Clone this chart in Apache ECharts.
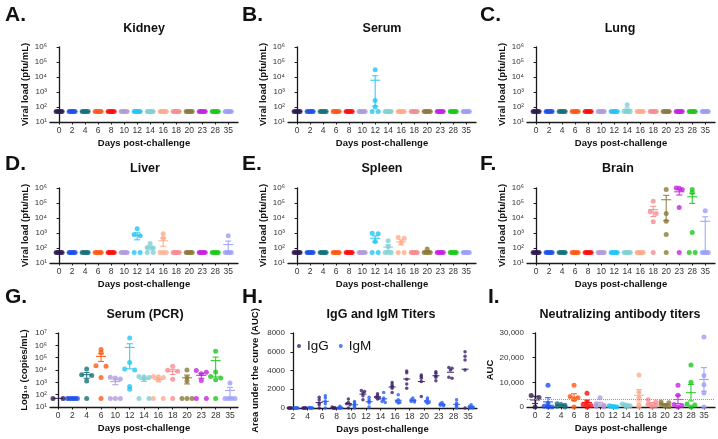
<!DOCTYPE html>
<html>
<head>
<meta charset="utf-8">
<script src="https://cdn.jsdelivr.net/npm/echarts@6/dist/echarts.min.js"></script>
<style>
html, body { margin: 0; padding: 0; background: #fff; }
#chart { width: 718px; height: 439px; }
</style>
</head>
<body>
<div id="chart"></div>
<script>
// ---- data ----
const days = ['0', '2', '4', '6', '8', '10', '12', '14', '16', '18', '20', '23', '28', '35'];
const daysPcr = ['0', '2', '4', '6', '10', '12', '14', '16', '18', '20', '23', '28', '35'];
const daysAb = ['2', '4', '6', '8', '10', '12', '14', '16', '18', '20', '23', '28', '35'];
const dayColors = ['#2f1b52', '#1f50ea', '#17707a', '#ff5a14', '#ff0d0d', '#b29bdc', '#22c6f5',
  '#80cfd5', '#ffab8a', '#f88c90', '#8c7b3b', '#c622e2', '#1cc81c', '#9b9dfa'];
const pcrColorIdx = [0, 1, 2, 3, 5, 6, 7, 8, 9, 10, 11, 12, 13];

const L = 50; // limit of detection (pfu/mL, copies/mL)

const kidney = [[L, L, L, L, L], [L, L, L, L, L], [L, L, L, L, L], [L, L, L, L, L], [L, L, L, L, L],
  [L, L, L, L, L], [L, L, L, L, L], [L, L, L, L, L], [L, L, L, L, L], [L, L, L, L, L],
  [L, L, L, L, L], [L, L, L, L, L], [L, L, L, L, L], [L, L, L, L, L]];
const serum = [[L, L, L, L, L], [L, L, L, L, L], [L, L, L, L, L], [L, L, L, L, L], [L, L, L, L, L],
  [L, L, L, L, L], [30000, 270, 100, L, L], [L, L, L, L, L], [L, L, L, L, L], [L, L, L, L, L],
  [L, L, L, L, L], [L, L, L, L, L], [L, L, L, L, L], [L, L, L, L, L]];
const lung = [[L, L, L, L, L], [L, L, L, L, L], [L, L, L, L, L], [L, L, L, L, L], [L, L, L, L, L],
  [L, L, L, L, L], [L, L, L, L, L], [140, L, L, L, L], [L, L, L, L, L], [L, L, L, L, L],
  [L, L, L, L, L], [L, L, L, L, L], [L, L, L, L, L], [L, L, L, L, L]];
const liver = [[L, L, L, L, L], [L, L, L, L, L], [L, L, L, L, L], [L, L, L, L, L], [L, L, L, L, L],
  [L, L, L, L, L], [1900, 800, 650, L, L], [200, 110, 100, L, L], [900, 450, L, L, L], [L, L, L, L, L],
  [L, L, L, L, L], [L, L, L, L, L], [L, L, L, L, L], [650, L, L, L, L]];
const spleen = [[L, L, L, L, L], [L, L, L, L, L], [L, L, L, L, L], [L, L, L, L, L], [L, L, L, L, L],
  [L, L, L, L, L], [950, 900, 270, L, L], [300, 120, L, L, L], [500, 450, 230, L, L], [L, L, L, L, L],
  [85, L, L, L, L], [L, L, L, L, L], [L, L, L, L, L], [L, L, L, L, L]];
const brain = [[L, L, L, L, L], [L, L, L, L, L], [L, L, L, L, L], [L, L, L, L, L], [L, L, L, L, L],
  [L, L, L, L, L], [L, L, L, L, L], [L, L, L, L, L], [L, L, L, L, L], [130000, 26000, 20000, 5600, L],
  [800000, 20000, 6000, 800, L], [1000000, 950000, 800000, 50000, L], [800000, 500000, 1100, L, L],
  [30000, L, L, L, L]];
const serumPcr = [[L, L], [L, L, L, L, L, L], [12000, 4200, 3500, 1300, L],
  [450000, 260000, 22000, 20000, 2500, L], [2600, 2200, 1900, L, L, L],
  [4000000, 40000, 12000, 10000, 450, 280], [3000, 2800, 2500, 2000, L, L],
  [3000, 2800, 2500, 1600, L, L], [20000, 9500, 8000, 1800, L], [10000, 2500, 1300, L, L, L],
  [9000, 6500, 5000, 1400, L, L], [330000, 7000, 3000, 2200, 1600, L], [900, L, L, L, L]];
const igg = [[0, 0, 0, 0, 0], [0, 0, 0, 0, 0], [1160, 880, 530, 350, 0], [100, 0, 0, 0, 0],
  [950, 600, 460, 350, 0], [1870, 1760, 1590, 1300, 880], [1520, 1300, 1160, 950, 1050],
  [2710, 2470, 2290, 2110, 1660], [3950, 3770, 3070, 2570, 2110], [3520, 3350, 3170, 2820, 1230],
  [3880, 3700, 3420, 3280, 2920], [4330, 4230, 4050, 3280, 3170], [5990, 5530, 5110, 4050, 0]];
const igm = [[0, 0, 0, 0, 0], [60, 0, 0, 0, 0], [1300, 1060, 700, 460, 0], [175, 0, 0, 0, 0],
  [700, 530, 350, 175, 0], [1160, 880, 700, 530, 100], [1660, 1060, 880, 700, 600],
  [1410, 880, 700, 530, 600], [1060, 880, 810, 700, 650], [1060, 880, 700, 600, 500],
  [600, 460, 350, 250, 300], [880, 530, 350, 175, 0], [350, 175, 100, 0, 0]];
const neut = [[4700, 3900, 0], [8800, 1300, 300, 0, 0], [1300, 1000, 700, 300, 0],
  [8800, 4300, 3800, 3000, 0], [5600, 2000, 1000, 600, 0], [3800, 1300, 700, 300, 0],
  [500, 300, 200, 100, 0], [1200, 900, 700, 500, 200], [13000, 6000, 3700, 1000, 0],
  [2900, 2000, 1000, 600, 0], [2000, 1700, 1000, 400, 100], [8800, 4800, 1000, 600, 0],
  [17000, 10000, 1200, 800, 0], [28400, 12800, 9000, 5700, 0]];
const neutCutoff = 3000;

const logTicks6 = [10, 100, 1000, 10000, 100000, 1000000];
const SUP = ['\u2070', '\u00b9', '\u00b2', '\u00b3', '\u2074', '\u2075', '\u2076', '\u2077'];

// ---- helpers ----
const FONT = '"Liberation Sans", Arial, sans-serif';
const AXIS = '#1a1a1a';

function meanSem(v) {
  const n = v.length;
  const m = v.reduce((a, b) => a + b, 0) / n;
  const sd = Math.sqrt(v.reduce((a, b) => a + (b - m) * (b - m), 0) / (n - 1));
  return [m, sd / Math.sqrt(n)];
}

// spread points with (nearly) the same value sideways
function swarm(vals, toScale, thr, span) {
  const s = vals.slice().sort((a, b) => b - a);
  const out = [];
  let i = 0;
  while (i < s.length) {
    let j = i + 1;
    while (j < s.length && toScale(s[i]) - toScale(s[j]) < thr) j++;
    const k = j - i;
    for (let m = 0; m < k; m++) {
      out.push([k > 1 ? (m / (k - 1) - 0.5) * span : 0, s[i + m]]);
    }
    i = j;
  }
  return out;
}

const grids = [], xAxes = [], yAxes = [], series = [];

function addPanel(p) {
  const gi = grids.length;
  grids.push({ left: p.left, top: p.top, width: p.width, height: p.height });
  const idx = p.labels.map((_, i) => i);
  xAxes.push({
    type: 'value', gridIndex: gi, min: p.xmin, max: p.xmax,
    name: 'Days post-challenge', nameLocation: 'middle', nameGap: 16,
    nameTextStyle: { fontFamily: FONT, fontWeight: 'bold', fontSize: 9.5, color: '#111' },
    axisLine: { show: true, onZero: false, lineStyle: { color: AXIS, width: 1.3 } },
    axisTick: { show: true, length: 2.5, customValues: idx, lineStyle: { color: AXIS } },
    axisLabel: {
      customValues: idx, formatter: v => p.labels[Math.round(v)],
      fontFamily: FONT, fontSize: 8.5, color: '#333', margin: 4
    },
    splitLine: { show: false }
  });
  const y = {
    gridIndex: gi, min: p.ymin, max: p.ymax,
    name: p.yName, nameLocation: 'middle', nameGap: p.yGap,
    nameTextStyle: { fontFamily: FONT, fontWeight: 'bold', fontSize: 9.5, color: '#111' },
    axisLine: { show: true, lineStyle: { color: AXIS, width: 1.3 } },
    axisTick: { show: true, length: 2.5, lineStyle: { color: AXIS } },
    axisLabel: { fontFamily: FONT, fontSize: 8, color: '#333', margin: 3 },
    splitLine: { show: false }
  };
  if (p.log) {
    y.type = 'log';
    y.logBase = 10;
    y.axisLabel.customValues = p.yTicks;
    y.axisTick.customValues = p.yTicks;
    y.axisLabel.formatter = v => '10' + SUP[Math.round(Math.log10(v))];
  } else {
    y.type = 'value';
    y.interval = p.yInterval;
    y.axisLabel.formatter = p.yFmt;
  }
  yAxes.push(y);

  const toScale = p.log ? Math.log10 : (v => v);
  (p.sets).forEach(set => {
    const pts = [];
    const stats = [];
    set.groups.forEach((vals, i) => {
      const col = set.color || dayColors[p.colorIdx[i]];
      swarm(vals, toScale, p.thr, p.span).forEach(([dx, v]) => {
        pts.push({ value: [i + (set.dx || 0) + dx, v], itemStyle: { color: col } });
      });
      const [m, s] = meanSem(vals);
      stats.push({ value: [i + (set.dx || 0), m, s], col: col });
    });
    const sc = {
      type: 'scatter', name: set.name, xAxisIndex: gi, yAxisIndex: gi,
      symbolSize: p.symbolSize, data: pts, silent: true, z: 2
    };
    if (set.color) sc.itemStyle = { color: set.color };
    if (set.markLine) sc.markLine = set.markLine;
    series.push(sc);
    series.push({
      type: 'custom', xAxisIndex: gi, yAxisIndex: gi, silent: true, z: 3,
      data: stats.map(d => d.value),
      renderItem: (params, api) => {
        const x = api.value(0), m = api.value(1), s = api.value(2);
        const col = stats[params.dataIndex].col;
        const st = { stroke: col, lineWidth: 1.1, opacity: 0.9 };
        const c = api.coord([x, m]);
        const kids = [{ type: 'line', shape: { x1: c[0] - p.meanHalf, y1: c[1], x2: c[0] + p.meanHalf, y2: c[1] }, style: st }];
        if (!set.meanOnly && s > 0) {
          const lo = m - s, hi = m + s;
          const loC = api.coord([x, Math.max(lo, p.ymin)]);
          const hiC = api.coord([x, Math.min(hi, p.ymax)]);
          kids.push({ type: 'line', shape: { x1: c[0], y1: loC[1], x2: c[0], y2: hiC[1] }, style: st });
          if (hi < p.ymax) kids.push({ type: 'line', shape: { x1: c[0] - 3, y1: hiC[1], x2: c[0] + 3, y2: hiC[1] }, style: st });
          if (lo > p.ymin) kids.push({ type: 'line', shape: { x1: c[0] - 3, y1: loC[1], x2: c[0] + 3, y2: loC[1] }, style: st });
        }
        return { type: 'group', children: kids };
      }
    });
  });
}

const viral = 'Viral load (pfu/mL)';
const idx14 = days.map((_, i) => i);
const colLeft = [50, 288, 527];
const rowTop = [47, 188, 333];
const logPanel = (col, row, groups) => ({
  left: colLeft[col], top: rowTop[row], width: 188, height: 75,
  xmin: -0.7, xmax: 13.75, labels: days, colorIdx: idx14,
  log: true, ymin: 10, ymax: 1000000, yTicks: logTicks6, yName: viral, yGap: 20,
  thr: 0.15, span: 0.46, symbolSize: 5, meanHalf: 5,
  sets: [{ groups: groups }]
});

addPanel(logPanel(0, 0, kidney));
addPanel(logPanel(1, 0, serum));
addPanel(logPanel(2, 0, lung));
addPanel(logPanel(0, 1, liver));
addPanel(logPanel(1, 1, spleen));
addPanel(logPanel(2, 1, brain));

addPanel({
  left: 50, top: 333, width: 188, height: 74,
  xmin: -0.56, xmax: 12.56, labels: daysPcr, colorIdx: pcrColorIdx,
  log: true, ymin: 10, ymax: 10000000, yTicks: [10, 100, 1000, 10000, 100000, 1000000, 10000000],
  yName: 'Log\u2081\u2080 (copies/mL)', yGap: 21,
  thr: 0.15, span: 0.7, symbolSize: 5, meanHalf: 5,
  sets: [{ groups: serumPcr }]
});

addPanel({
  left: 288, top: 333, width: 189, height: 75,
  xmin: -0.34, xmax: 12.62, labels: daysAb, colorIdx: [],
  log: false, ymin: 0, ymax: 8000, yInterval: 2000, yFmt: v => String(v),
  yName: 'Area under the curve (AUC)', yGap: 28,
  thr: 130, span: 0.22, symbolSize: 3.5, meanHalf: 3.5,
  sets: [
    { name: 'IgG', groups: igg, color: '#3a2168', dx: -0.2, meanOnly: true },
    { name: 'IgM', groups: igm, color: '#2a5df2', dx: 0.22, meanOnly: true }
  ]
});

addPanel({
  left: 527, top: 333, width: 188, height: 74,
  xmin: -0.62, xmax: 13.85, labels: days, colorIdx: idx14,
  log: false, ymin: 0, ymax: 30000, yInterval: 10000, yFmt: v => v.toLocaleString('en-US'),
  yName: 'AUC', yGap: 30,
  thr: 1000, span: 0.6, symbolSize: 5, meanHalf: 5,
  sets: [{
    groups: neut,
    markLine: {
      silent: true, symbol: 'none', label: { show: false },
      lineStyle: { color: '#9a9a9a', type: 'dotted', width: 1 },
      data: [{ yAxis: neutCutoff }]
    }
  }]
});

const titles = [
  ['Kidney', 144, 29], ['Serum', 382, 29], ['Lung', 620, 29],
  ['Liver', 145, 169], ['Spleen', 382, 169], ['Brain', 618, 169],
  ['Serum (PCR)', 145, 315], ['IgG and IgM Titers', 381, 315], ['Neutralizing antibody titers', 620, 315]
];
const letters = [
  ['A.', 5, 15], ['B.', 242, 15], ['C.', 480, 15],
  ['D.', 5, 164], ['E.', 242, 164], ['F.', 480, 164],
  ['G.', 5, 297], ['H.', 242, 297], ['I.', 488, 297]
];
const graphic = [];
titles.forEach(([t, x, y]) => graphic.push({
  type: 'text', x: x, y: y, silent: true,
  style: { text: t, fill: '#111', font: 'bold 12.5px ' + FONT, align: 'center', verticalAlign: 'middle' }
}));
letters.forEach(([t, x, y]) => graphic.push({
  type: 'text', x: x, y: y, silent: true,
  style: { text: t, fill: '#111', font: 'bold 21px ' + FONT, align: 'left', verticalAlign: 'middle' }
}));

const chart = echarts.init(document.getElementById('chart'));
chart.setOption({
  animation: false,
  backgroundColor: '#fff',
  grid: grids,
  xAxis: xAxes,
  yAxis: yAxes,
  series: series,
  graphic: graphic,
  legend: {
    data: ['IgG', 'IgM'], left: 292, top: 334, icon: 'circle',
    itemWidth: 4, itemHeight: 4, itemGap: 10, selectedMode: false,
    textStyle: { fontFamily: FONT, fontSize: 13.5, color: '#111', padding: [0, 0, 0, 1] }
  }
});
</script>
</body>
</html>
